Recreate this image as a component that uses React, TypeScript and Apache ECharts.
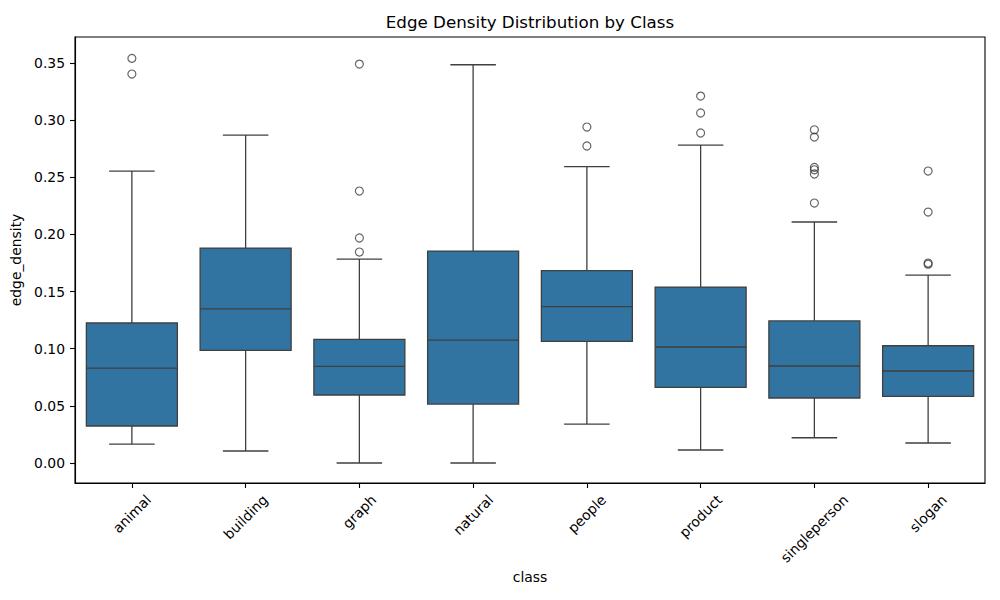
import React, { useEffect, useRef } from "react";
import * as echarts from "echarts";

const categories = ["animal", "building", "graph", "natural", "people", "product", "singleperson", "slogan"];
const whiskerLow = [0.0166, 0.0105, 0.0, 0.0, 0.0341, 0.0114, 0.0221, 0.0175];
const q1 = [0.0324, 0.0985, 0.0595, 0.0516, 0.1064, 0.0662, 0.0569, 0.0583];
const median = [0.0831, 0.1348, 0.0846, 0.1076, 0.1368, 0.1015, 0.0849, 0.0805];
const q3 = [0.1225, 0.1881, 0.1082, 0.1855, 0.1683, 0.154, 0.1243, 0.1026];
const whiskerHigh = [0.2555, 0.287, 0.1785, 0.3485, 0.2593, 0.2782, 0.2109, 0.1645];
const outlierClass = [0, 0, 2, 2, 2, 2, 4, 4, 5, 5, 5, 6, 6, 6, 6, 6, 6, 7, 7, 7, 7];
const outlierValue = [0.3541, 0.3404, 0.3491, 0.238, 0.1969, 0.1846, 0.294, 0.2774, 0.3211, 0.3063, 0.2888, 0.2916, 0.2852, 0.2587, 0.2566, 0.2529, 0.2275, 0.2555, 0.2196, 0.175, 0.174];
const yTicks = [0, 0.05, 0.1, 0.15, 0.2, 0.25, 0.3, 0.35];

const Y_MIN = -0.0175;
const Y_MAX = 0.3728;
const FONT = "DejaVu Sans";
const TICK_FS = 13.9;
const BOX_FILL = "#3274a1";
const LINE = "#3f3f3f";

function measure(text: string): number {
  const c = document.createElement("canvas").getContext("2d");
  if (!c) return text.length * 8;
  c.font = `${TICK_FS}px "${FONT}"`;
  return c.measureText(text).width;
}

export default function App() {
  const ref = useRef<HTMLDivElement>(null);
  useEffect(() => {
    document.body.style.margin = "0";
    if (!ref.current) return;
    const chart = echarts.init(ref.current, null, { renderer: "svg" });
    const boxData = categories.map((_, i) => [i, whiskerLow[i], q1[i], median[i], q3[i], whiskerHigh[i]]);
    const outData = outlierClass.map((c, i) => [c, outlierValue[i]]);
    const labelData = categories.map((_, i) => [i, Y_MIN]);

    chart.setOption({
      animation: false,
      title: {
        text: "Edge Density Distribution by Class",
        left: 530,
        top: 13,
        padding: 0,
        textAlign: "center",
        textStyle: { fontFamily: FONT, fontSize: 16.7, fontWeight: "normal", color: "#000" },
      },
      grid: { left: 75, top: 37, right: 15, bottom: 117, show: true, borderColor: "#000", borderWidth: 1.1, backgroundColor: "transparent" },
      xAxis: {
        type: "category",
        data: categories,
        boundaryGap: true,
        name: "class",
        nameLocation: "middle",
        nameGap: 87,
        nameTextStyle: { fontFamily: FONT, fontSize: TICK_FS, color: "#000" },
        axisLine: { show: true, onZero: false, lineStyle: { color: "#000", width: 1.1 } },
        axisTick: { show: true, alignWithLabel: true, length: 5, lineStyle: { color: "#000", width: 1.1 } },
        axisLabel: { show: false },
        splitLine: { show: false },
      },
      yAxis: {
        type: "value",
        min: Y_MIN,
        max: Y_MAX,
        name: "edge_density",
        nameLocation: "middle",
        nameGap: 46,
        nameTextStyle: { fontFamily: FONT, fontSize: TICK_FS, color: "#000" },
        axisLine: { show: true, lineStyle: { color: "#000", width: 1.1 } },
        axisTick: { show: true, length: 5, customValues: yTicks, lineStyle: { color: "#000", width: 1.1 } },
        axisLabel: {
          show: true,
          customValues: yTicks,
          margin: 10,
          fontFamily: FONT,
          fontSize: TICK_FS,
          color: "#000",
          formatter: (v: number) => v.toFixed(2),
        },
        splitLine: { show: false },
      },
      series: [
        {
          type: "custom",
          data: boxData,
          clip: false,
          z: 2,
          renderItem: (params: any, api: any) => {
            const x = api.value(0);
            const lo = api.coord([x, api.value(1)]);
            const b1 = api.coord([x, api.value(2)]);
            const md = api.coord([x, api.value(3)]);
            const b3 = api.coord([x, api.value(4)]);
            const hi = api.coord([x, api.value(5)]);
            const band = api.size([1, 0])[0];
            const hw = band * 0.4;
            const cw = band * 0.2;
            const cx = md[0];
            const ls = { stroke: LINE, lineWidth: 1.3 };
            return {
              type: "group",
              children: [
                { type: "line", shape: { x1: cx, y1: b3[1], x2: cx, y2: hi[1] }, style: ls },
                { type: "line", shape: { x1: cx, y1: b1[1], x2: cx, y2: lo[1] }, style: ls },
                { type: "line", shape: { x1: cx - cw, y1: hi[1], x2: cx + cw, y2: hi[1] }, style: ls },
                { type: "line", shape: { x1: cx - cw, y1: lo[1], x2: cx + cw, y2: lo[1] }, style: ls },
                {
                  type: "rect",
                  shape: { x: cx - hw, y: b3[1], width: hw * 2, height: b1[1] - b3[1] },
                  style: { fill: BOX_FILL, stroke: LINE, lineWidth: 1.3 },
                },
                { type: "line", shape: { x1: cx - hw, y1: md[1], x2: cx + hw, y2: md[1] }, style: ls },
              ],
            };
          },
        },
        {
          type: "scatter",
          data: outData,
          symbol: "circle",
          symbolSize: 8,
          z: 3,
          itemStyle: { color: "rgba(0,0,0,0)", borderColor: LINE, borderWidth: 1.2 },
        },
        {
          type: "custom",
          data: labelData,
          clip: false,
          silent: true,
          z: 4,
          renderItem: (params: any, api: any) => {
            const i = api.value(0);
            const p = api.coord([i, api.value(1)]);
            const text = categories[i];
            const L = measure(text);
            const h = (L + 13) * Math.SQRT1_2;
            return {
              type: "text",
              x: p[0],
              y: p[1] + 9.7 + h / 2,
              rotation: Math.PI / 4,
              style: {
                text,
                fontFamily: FONT,
                fontSize: TICK_FS,
                fill: "#000",
                align: "center",
                verticalAlign: "middle",
              },
            };
          },
        },
      ],
    });
    return () => chart.dispose();
  }, []);
  return <div ref={ref} style={{ width: 1000, height: 600 }} />;
}
